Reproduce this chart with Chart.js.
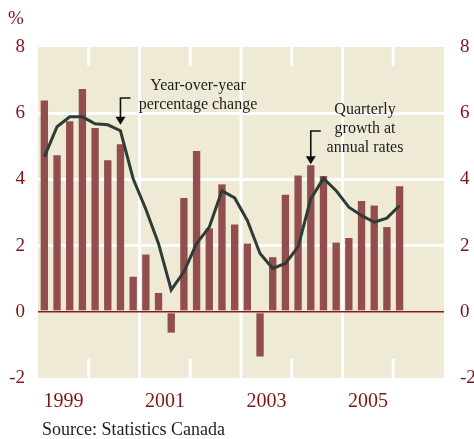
<!DOCTYPE html>
<html>
<head>
<meta charset="utf-8">
<script src="https://cdn.jsdelivr.net/npm/chart.js@4"></script>
<style>
  html, body { margin: 0; padding: 0; background: #fff; }
  #wrap { position: relative; width: 474px; height: 439px; }
  .txt { position: absolute; font-family: "Liberation Serif", serif; white-space: nowrap; }
  .note { color: #1e1e1e; font-size: 16px; line-height: 19px; text-align: center; }
</style>
</head>
<body>
<div id="wrap">
  <canvas id="chart"></canvas>
  <div class="txt" style="left:8px; top:7px; font-size:19px; color:#7d1518;">%</div>
  <div class="txt note" style="left:138px; top:75px; width:120px;">Year-over-year<br>percentage change</div>
  <div class="txt note" style="left:315px; top:99px; width:100px;">Quarterly<br>growth at<br>annual rates</div>
  <div class="txt" style="left:42px; top:419px; font-size:18px; color:#1e1e1e;">Source: Statistics Canada</div>
</div>
<script>
// quarters 1999Q1 .. 2006Q4
const years = [1999, 2000, 2001, 2002, 2003, 2004, 2005, 2006];
const yearLabels = [1999, 2001, 2003, 2005];
const quarters = [];
years.forEach(y => { for (let q = 1; q <= 4; q++) quarters.push(y + 'Q' + q); });

// quarterly growth at annual rates (bars), 1999Q1 - 2006Q1
const quarterlyGrowth = [
  6.38, 4.73, 5.76, 6.73,
  5.55, 4.58, 5.06, 1.06,
  1.73, 0.57, -0.63, 3.44,
  4.86, 2.52, 3.85, 2.64,
  2.06, -1.35, 1.65, 3.54,
  4.12, 4.43, 4.10, 2.09,
  2.23, 3.35, 3.21, 2.56,
  3.79
];

// year-over-year percentage change (line)
const yearOverYear = [
  4.68, 5.59, 5.89, 5.89,
  5.68, 5.65, 5.47, 4.02,
  3.10, 2.06, 0.66, 1.21,
  2.06, 2.56, 3.66, 3.44,
  2.76, 1.76, 1.31, 1.46,
  1.96, 3.41, 4.03, 3.66,
  3.16, 2.91, 2.71, 2.83,
  3.21
];

const yTicks = [-2, 0, 2, 4, 6, 8];

const darkRed = '#7d1518';
const beige = '#efead6';

const backdrop = {
  id: 'backdrop',
  beforeDraw(chart) {
    const { ctx, chartArea: a } = chart;
    ctx.save();
    ctx.fillStyle = beige;
    ctx.fillRect(a.left, a.top, a.right - a.left, a.bottom - a.top);
    ctx.restore();
  },
  beforeDatasetsDraw(chart) {
    const { ctx, chartArea: a } = chart;
    const ys = chart.scales.xYears;
    ctx.save();
    ctx.strokeStyle = '#ffffff';
    ctx.lineWidth = 3;
    for (let y = 2000; y <= 2006; y++) {
      const x = ys.getPixelForValue(y);
      ctx.beginPath();
      if (y % 2 === 1) {
        ctx.moveTo(x, a.top); ctx.lineTo(x, a.bottom);
      } else {
        ctx.moveTo(x, a.top); ctx.lineTo(x, a.top + 19);
        ctx.moveTo(x, a.bottom - 19); ctx.lineTo(x, a.bottom);
      }
      ctx.stroke();
    }
    ctx.restore();
  },
  afterDatasetsDraw(chart) {
    const { ctx, chartArea: a } = chart;
    const yS = chart.scales.y, xS = chart.scales.x;
    ctx.save();
    // zero line
    const y0 = yS.getPixelForValue(0);
    ctx.strokeStyle = '#8b1a1a';
    ctx.lineWidth = 1.5;
    ctx.beginPath();
    ctx.moveTo(a.left, y0); ctx.lineTo(a.right, y0);
    ctx.stroke();
    // arrows
    const arrow = (x, tip, top) => {
      ctx.strokeStyle = '#111';
      ctx.fillStyle = '#111';
      ctx.lineWidth = 1.6;
      ctx.beginPath();
      ctx.moveTo(x + 10, top); ctx.lineTo(x, top); ctx.lineTo(x, tip - 6);
      ctx.stroke();
      ctx.beginPath();
      ctx.moveTo(x - 5, tip - 8); ctx.lineTo(x + 5, tip - 8); ctx.lineTo(x, tip);
      ctx.closePath();
      ctx.fill();
    };
    arrow(xS.getPixelForValue(6), yS.getPixelForValue(yearOverYear[6]) - 6, 98);
    arrow(xS.getPixelForValue(21), yS.getPixelForValue(quarterlyGrowth[21]) - 1, 131);
    ctx.restore();
  }
};

new Chart(document.getElementById('chart'), {
  data: {
    labels: quarters,
    datasets: [
      {
        type: 'line',
        data: yearOverYear,
        borderColor: '#2e3c37',
        borderWidth: 3,
        pointRadius: 0,
        tension: 0,
        order: 0
      },
      {
        type: 'bar',
        data: quarterlyGrowth,
        backgroundColor: '#924e4f',
        categoryPercentage: 1,
        barPercentage: 0.58,
        order: 1
      }
    ]
  },
  options: {
    responsive: true,
    maintainAspectRatio: false,
    animation: false,
    layout: { padding: { top: 47, left: 0, right: 0, bottom: 0 } },
    plugins: { legend: { display: false }, tooltip: { enabled: false } },
    scales: {
      x: {
        type: 'category',
        display: false,
        offset: true,
        grid: { display: false }
      },
      xYears: {
        type: 'linear',
        position: 'bottom',
        min: 1999,
        max: 2007,
        afterBuildTicks: s => { s.ticks = yearLabels.map(v => ({ value: v + 0.5 })); },
        afterFit: s => { s.height = 61; },
        grid: { display: false, drawTicks: false },
        border: { display: false },
        ticks: {
          padding: 12,
          color: darkRed,
          font: { family: 'Liberation Serif', size: 20 },
          callback: v => String(Math.floor(v))
        }
      },
      y: {
        position: 'left',
        min: -2,
        max: 8,
        afterBuildTicks: s => { s.ticks = yTicks.map(v => ({ value: v })); },
        afterFit: s => { s.width = 38; },
        border: { display: false },
        grid: {
          drawTicks: false,
          lineWidth: 3,
          color: c => [2, 4, 6].includes(c.tick.value) ? '#ffffff' : 'rgba(0,0,0,0)'
        },
        ticks: {
          padding: 13,
          color: darkRed,
          font: { family: 'Liberation Serif', size: 19 }
        }
      },
      y2: {
        position: 'right',
        min: -2,
        max: 8,
        afterBuildTicks: s => { s.ticks = yTicks.map(v => ({ value: v })); },
        afterFit: s => { s.width = 30; },
        border: { display: false },
        grid: { display: false, drawTicks: false },
        ticks: {
          padding: 16,
          color: darkRed,
          font: { family: 'Liberation Serif', size: 19 }
        }
      }
    }
  },
  plugins: [backdrop]
});
</script>
</body>
</html>
